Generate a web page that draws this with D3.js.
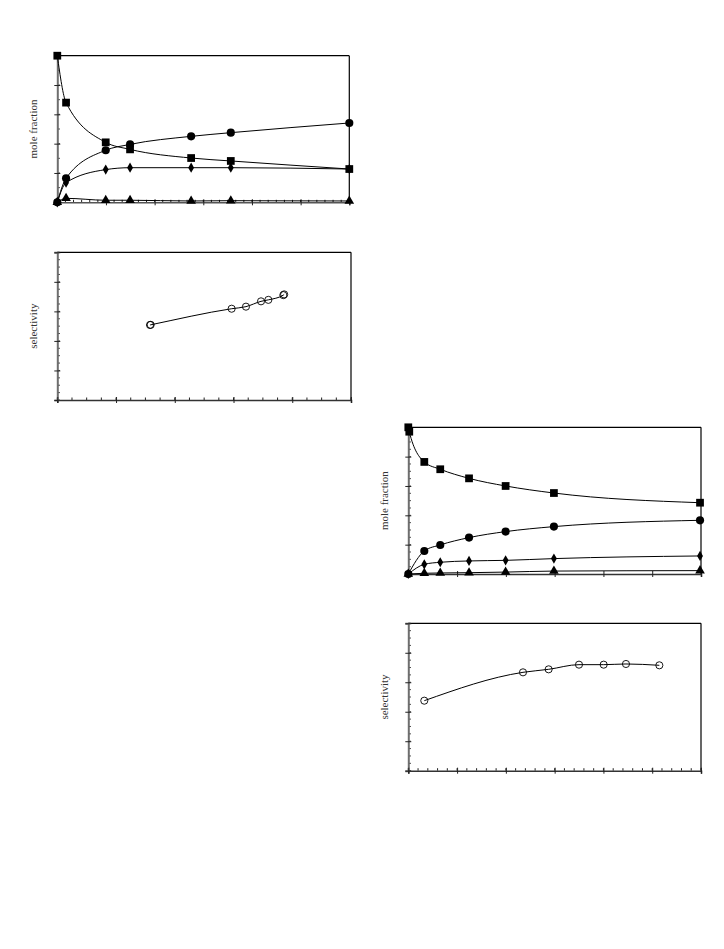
<!DOCTYPE html>
<html>
<head>
<meta charset="utf-8">
<script src="https://cdn.jsdelivr.net/npm/d3@7"></script>
<style>
html,body{margin:0;padding:0;background:#fff;}
svg{display:block;}
</style>
</head>
<body>
<svg id="chart" width="724" height="949"></svg>
<script>
// ---------- Data ----------
// Panel 1 (top-left): mole fraction vs time
const p1Time = [0, 3.6, 19.9, 29.9, 55, 71.3, 120];
const p1Squares = [1.0, 0.68, 0.409, 0.361, 0.302, 0.282, 0.227];
const p1Circles = [0, 0.164, 0.355, 0.395, 0.45, 0.475, 0.541];
const p1Diamonds = [0, 0.134, 0.223, 0.236, 0.236, 0.236, 0.227];
const p1Triangles = [0, 0.027, 0.014, 0.014, 0.009, 0.011, 0.009];

// Panel 2 (left): selectivity
const p2X = [1.578, 1.59, 2.968, 3.212, 3.468, 3.593, 3.848, 3.862];
const p2Y = [2.54, 2.545, 3.09, 3.16, 3.34, 3.39, 3.55, 3.575];

// Panel 3 (right): mole fraction vs time
const p3Time = [0, 0.4, 6.56, 13.1, 24.9, 39.9, 59.7, 119.6];
const p3Squares = [1.0, 0.97, 0.764, 0.714, 0.652, 0.6, 0.552, 0.486];
const p3TimeB = [0, 6.56, 13.1, 24.9, 39.9, 59.7, 119.6];
const p3Circles = [0, 0.157, 0.198, 0.248, 0.289, 0.323, 0.366];
const p3Diamonds = [0, 0.066, 0.08, 0.089, 0.093, 0.105, 0.123];
const p3Triangles = [0, 0.005, 0.007, 0.009, 0.013, 0.02, 0.023];

// Panel 4 (right): selectivity
const p4X = [0.328, 2.351, 2.877, 3.499, 4.005, 4.462, 5.146];
const p4Y = [2.375, 3.337, 3.439, 3.597, 3.597, 3.62, 3.575];

// Labels
const labelMole = "mole fraction";
const labelSel = "selectivity";

// ---------- Drawing ----------
const svg = d3.select("#chart");

function zip(xs, ys){ return xs.map((x,i)=>({x:x, y:ys[i]})); }

function panel(cfg){
  const g = svg.append("g");
  const x = d3.scaleLinear().domain(cfg.xDomain).range([cfg.left, cfg.right]);
  const y = d3.scaleLinear().domain(cfg.yDomain).range([cfg.bottom, cfg.top]);

  // top and right frame
  g.append("line").attr("x1", cfg.left).attr("x2", cfg.right).attr("y1", cfg.top).attr("y2", cfg.top)
    .attr("stroke", "#000").attr("stroke-width", 1.2);
  g.append("line").attr("x1", cfg.right).attr("x2", cfg.right).attr("y1", cfg.top).attr("y2", cfg.bottom)
    .attr("stroke", "#000").attr("stroke-width", 1.2);

  // minor ticks (inside)
  const yMinor = d3.range(cfg.yDomain[0], cfg.yDomain[1] + 1e-9, cfg.yMinor);
  g.selectAll(null).data(yMinor).enter().append("line")
    .attr("x1", cfg.left).attr("x2", cfg.left + 2.5)
    .attr("y1", d => y(d)).attr("y2", d => y(d))
    .attr("stroke", "#222").attr("stroke-width", 1);
  if (cfg.xMinor) {
    const xMinor = d3.range(cfg.xDomain[0], cfg.xDomain[1] + 1e-9, cfg.xMinor);
    g.selectAll(null).data(xMinor).enter().append("line")
      .attr("x1", d => x(d)).attr("x2", d => x(d))
      .attr("y1", cfg.bottom).attr("y2", cfg.bottom - 2.5)
      .attr("stroke", "#222").attr("stroke-width", 1);
  }

  // axes via d3 (no labels, major ticks crossing)
  const yAxis = d3.axisLeft(y).tickValues(d3.range(cfg.yDomain[0], cfg.yDomain[1] + 1e-9, cfg.yMajor))
    .tickSize(3).tickFormat("");
  const ya = g.append("g").attr("transform", `translate(${cfg.left},0)`).call(yAxis);
  ya.select(".domain").attr("stroke", "#6e6e6e").attr("stroke-width", 2);
  ya.selectAll(".tick line").attr("x1", -3).attr("x2", 3).attr("stroke", "#222").attr("stroke-width", 1);

  const xAxis = d3.axisBottom(x).tickValues(d3.range(cfg.xDomain[0], cfg.xDomain[1] + 1e-9, cfg.xMajor))
    .tickSize(3).tickFormat("");
  const xa = g.append("g").attr("transform", `translate(0,${cfg.bottom})`).call(xAxis);
  xa.select(".domain").attr("stroke", cfg.bottomColor || "#333").attr("stroke-width", 1.6);
  xa.selectAll(".tick line").attr("y1", -3).attr("y2", 3).attr("stroke", "#222").attr("stroke-width", 1);

  // y label
  g.append("text")
    .attr("transform", `translate(${cfg.labelX},${(cfg.top + cfg.bottom) / 2}) rotate(-90)`)
    .attr("text-anchor", "middle").attr("dominant-baseline", "middle")
    .attr("font-family", "'Liberation Serif', 'Times New Roman', serif")
    .attr("font-size", 11).attr("fill", "#333")
    .text(cfg.label);

  const line = d3.line().x(d => x(d.x)).y(d => y(d.y)).curve(d3.curveMonotoneX);

  cfg.series.forEach(s => {
    g.append("path").datum(s.data).attr("d", line)
      .attr("fill", "none").attr("stroke", "#000").attr("stroke-width", 1);
  });
  cfg.series.forEach(s => {
    const sym = d3.symbol().type(s.symbol).size(s.size);
    g.selectAll(null).data(s.data).enter().append("path")
      .attr("d", sym)
      .attr("transform", d => `translate(${x(d.x)},${y(d.y)})`)
      .attr("fill", s.open ? "#fff" : "#000")
      .attr("fill-opacity", s.open ? 0 : 1)
      .attr("stroke", "#000").attr("stroke-width", s.open ? 0.9 : 0);
  });
}

// Panel 1
panel({
  left: 57.3, right: 349.3, top: 55.7, bottom: 202.3,
  xDomain: [0, 120], yDomain: [0, 1], xMajor: 20, xMinor: 20 / 6, yMajor: 0.2, yMinor: 0.1,
  label: labelMole, labelX: 34.5, bottomColor: "#555",
  series: [
    {data: zip(p1Time, p1Triangles), symbol: d3.symbolTriangle, size: 40},
    {data: zip(p1Time, p1Diamonds), symbol: d3.symbolDiamond, size: 30},
    {data: zip(p1Time, p1Circles), symbol: d3.symbolCircle, size: 52},
    {data: zip(p1Time, p1Squares), symbol: d3.symbolSquare, size: 60}
  ]
});

// Panel 2
panel({
  left: 57.3, right: 351, top: 252.3, bottom: 400,
  xDomain: [0, 5], yDomain: [0, 5], xMajor: 1, xMinor: 0.25, yMajor: 1, yMinor: 0.25,
  label: labelSel, labelX: 34,
  series: [
    {data: zip(p2X, p2Y), symbol: d3.symbolCircle, size: 40, open: true}
  ]
});

// Panel 3
panel({
  left: 408.3, right: 701, top: 427.3, bottom: 574,
  xDomain: [0, 120], yDomain: [0, 1], xMajor: 20, xMinor: null, yMajor: 0.2, yMinor: 0.05,
  label: labelMole, labelX: 385,
  series: [
    {data: zip(p3TimeB, p3Triangles), symbol: d3.symbolTriangle, size: 40},
    {data: zip(p3TimeB, p3Diamonds), symbol: d3.symbolDiamond, size: 30},
    {data: zip(p3TimeB, p3Circles), symbol: d3.symbolCircle, size: 52},
    {data: zip(p3Time, p3Squares), symbol: d3.symbolSquare, size: 60}
  ]
});

// Panel 4
panel({
  left: 408.3, right: 701, top: 623.3, bottom: 770.7,
  xDomain: [0, 6], yDomain: [0, 5], xMajor: 1, xMinor: 0.2, yMajor: 1, yMinor: 0.25,
  label: labelSel, labelX: 385,
  series: [
    {data: zip(p4X, p4Y), symbol: d3.symbolCircle, size: 40, open: true}
  ]
});
</script>
</body>
</html>
